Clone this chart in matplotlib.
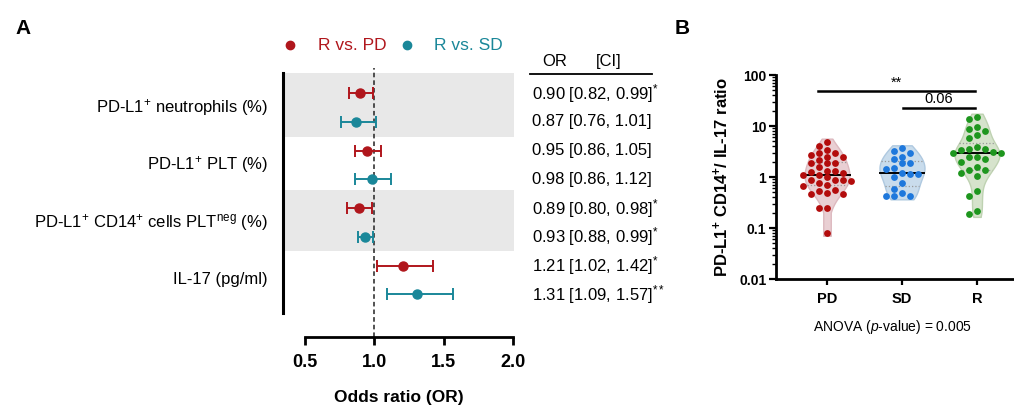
import numpy as np
import matplotlib
matplotlib.use('Agg')
import matplotlib.pyplot as plt
from matplotlib.lines import Line2D
from matplotlib.transforms import blended_transform_factory

plt.rcParams['font.family'] = ['Liberation Sans', 'DejaVu Sans']
plt.rcParams['mathtext.fontset'] = 'custom'
plt.rcParams['mathtext.rm'] = 'Liberation Sans'
plt.rcParams['mathtext.it'] = 'Liberation Sans:italic'
plt.rcParams['mathtext.bf'] = 'Liberation Sans:bold'

# ---------------- data: panel A (forest plot) ----------------
features = [r'PD-L1$^{+}$ neutrophils (%)',
            r'PD-L1$^{+}$ PLT (%)',
            r'PD-L1$^{+}$ CD14$^{+}$ cells PLT$^{\mathrm{neg}}$ (%)',
            'IL-17 (pg/ml)']
or_pd = [0.90, 0.95, 0.89, 1.21]
lo_pd = [0.82, 0.86, 0.80, 1.02]
hi_pd = [0.99, 1.05, 0.98, 1.42]
sig_pd = ['*', '', '*', '*']
or_sd = [0.87, 0.98, 0.93, 1.31]
lo_sd = [0.76, 0.86, 0.88, 1.09]
hi_sd = [1.01, 1.12, 0.99, 1.57]
sig_sd = ['', '', '*', '**']
series_labels = ['R vs. PD', 'R vs. SD']
or_ticks = [0.5, 1.0, 1.5, 2.0]

# ---------------- data: panel B (violin) ----------------
groups = ['PD', 'SD', 'R']
pd_vals = [4.93, 4.05, 3.38, 3.0, 3.0, 2.7, 2.43, 2.5, 2.15, 1.85, 1.85, 1.85,
           1.55, 1.33, 1.33, 1.27, 1.18, 1.09, 1.09, 0.98, 0.87, 0.87, 0.87,
           0.82, 0.75, 0.70, 0.67, 0.56, 0.54, 0.48, 0.46, 0.46, 0.25, 0.25, 0.081]
sd_vals = [3.65, 3.28, 3.0, 2.5, 2.22, 1.85, 1.85, 1.48, 1.41, 1.18, 1.15, 1.15,
           1.01, 0.75, 0.57, 0.49, 0.42, 0.42, 0.42]
r_vals = [15.2, 13.5, 9.7, 8.6, 8.0, 6.7, 5.7, 3.9, 3.5, 3.5, 3.4, 3.1, 2.9, 2.9,
          2.5, 2.5, 2.3, 2.0, 1.6, 1.37, 1.37, 1.2, 1.05, 0.54, 0.42, 0.22, 0.19]
comparisons = [('PD', 'R', '**', 48.5), ('SD', 'R', '0.06', 22.5)]
anova_p = '0.005'

RED = '#B0161C'
TEAL = '#1A8799'
dot_cols = ['#B30C0C', '#1E78DC', '#1E961E']
fill_cols = ['#E9CFD3', '#C9DCEC', '#D6E3CC']
edge_cols = ['#DDB9BF', '#AFC9E0', '#BFD2B2']

fig = plt.figure(figsize=(10.14, 4.05), dpi=100)

# ================= Panel A =================
axA = fig.add_axes([0.2791, 0.2272, 0.2278, 0.5926])
axA.set_xlim(0.342, 2.007)
axA.set_ylim(7.65, -0.7)
axA.axhspan(-0.7, 1.53, color='#E8E8E8', lw=0, zorder=0)
axA.axhspan(3.37, 5.5, color='#E8E8E8', lw=0, zorder=0)

n = len(features)
y_pd = np.arange(n) * 2
y_sd = np.arange(n) * 2 + 1
o = np.array(or_pd); axA.errorbar(o, y_pd, xerr=[o - np.array(lo_pd), np.array(hi_pd) - o],
                                  fmt='o', color=RED, ms=6.5, capsize=4, elinewidth=1.4, capthick=1.4, zorder=3)
o = np.array(or_sd); axA.errorbar(o, y_sd, xerr=[o - np.array(lo_sd), np.array(hi_sd) - o],
                                  fmt='o', color=TEAL, ms=6.5, capsize=4, elinewidth=1.4, capthick=1.4, zorder=3)
axA.axvline(1.0, ymin=-0.1, ymax=1.02, ls=(0, (3, 2)), color='#222222', lw=1.1, clip_on=False, zorder=2)

for s in ['top', 'right']:
    axA.spines[s].set_visible(False)
axA.spines['left'].set_linewidth(2.2)
axA.spines['bottom'].set_linewidth(2)
axA.spines['bottom'].set_position(('outward', 17.3))
axA.spines['bottom'].set_bounds(0.5, 2.0)
axA.set_yticks([])
axA.set_xticks(or_ticks)
axA.set_xticklabels(['%.1f' % t for t in or_ticks], fontsize=13, fontweight='bold')
axA.tick_params(axis='x', length=6, width=2, pad=6)
axA.set_xlabel('Odds ratio (OR)', fontsize=12.5, fontweight='bold', labelpad=14)

tr_lab = blended_transform_factory(axA.transAxes, axA.transData)
for i, f in enumerate(features):
    axA.text(-0.065, 2 * i + 0.5, f, transform=tr_lab, ha='right', va='center', fontsize=12)

tr_tab = blended_transform_factory(fig.transFigure, axA.transData)
x_tab = 532 / 1014
for i in range(n):
    axA.text(x_tab, y_pd[i], '%.2f [%.2f, %.2f]' % (or_pd[i], lo_pd[i], hi_pd[i]) +
             (r'$^{%s}$' % sig_pd[i] if sig_pd[i] else ''), transform=tr_tab,
             ha='left', va='center', fontsize=12, clip_on=False)
    axA.text(x_tab, y_sd[i], '%.2f [%.2f, %.2f]' % (or_sd[i], lo_sd[i], hi_sd[i]) +
             (r'$^{%s}$' % sig_sd[i] if sig_sd[i] else ''), transform=tr_tab,
             ha='left', va='center', fontsize=12, clip_on=False)
axA.text(542 / 1014, -1.1, 'OR', transform=tr_tab, ha='left', va='center', fontsize=12)
axA.text(596 / 1014, -1.1, '[CI]', transform=tr_tab, ha='left', va='center', fontsize=12)
axA.add_line(Line2D([530 / 1014, 652 / 1014], [-0.66, -0.66], transform=tr_tab, color='black',
                    lw=1.3, clip_on=False))

# legend
ly = (405 - 45) / 405
fig.add_artist(Line2D([290 / 1014], [ly], marker='o', color=RED, ms=6, ls='none'))
fig.text(318 / 1014, ly, series_labels[0], color=RED, fontsize=12.5, ha='left', va='center')
fig.add_artist(Line2D([407 / 1014], [ly], marker='o', color=TEAL, ms=6, ls='none'))
fig.text(434 / 1014, ly, series_labels[1], color=TEAL, fontsize=12.5, ha='left', va='center')

fig.text(15 / 1014, (405 - 28) / 405, 'A', fontsize=15, fontweight='bold', ha='left', va='center')
fig.text(675 / 1014, (405 - 28) / 405, 'B', fontsize=15, fontweight='bold', ha='left', va='center')

# ================= Panel B =================
axB = fig.add_axes([0.7653, 0.311, 0.2337, 0.5037])
axB.set_yscale('log')
axB.set_ylim(0.01, 100)
axB.set_xlim(-0.68, 2.48)


def swarm(vals, d=6.6, step=8.0, ppd=51.0, ppu=75.0):
    vals = np.asarray(vals, float)
    order = np.argsort(vals)[::-1]
    placed = []
    xs = np.zeros(len(vals))
    for idx in order:
        y = np.log10(vals[idx]) * ppd
        x = 0.0
        for k in [0, -1, 1, -2, 2, -3, 3, -4, 4]:
            x = k * step
            if all((x - px) ** 2 + (y - py) ** 2 >= d * d for px, py in placed):
                break
        placed.append((x, y))
        xs[idx] = x / ppu
    return xs


all_vals = [pd_vals, sd_vals, r_vals]
for i, vals in enumerate(all_vals):
    v = np.asarray(vals, float)
    lv = np.log10(v)
    grid = np.linspace(lv.min() - 0.06, lv.max() + 0.06, 300)
    bw = 0.2
    dens = np.exp(-0.5 * ((grid[:, None] - lv[None, :]) / bw) ** 2).sum(axis=1)
    w = dens / dens.max() * 0.30
    w = np.maximum(w, 0.05)
    axB.fill_betweenx(10 ** grid, i - w, i + w, facecolor=fill_cols[i], edgecolor=edge_cols[i],
                      lw=1, zorder=1)
    q1, med, q3 = np.percentile(lv, [25, 50, 75])
    for q, st, c, lw in [(q1, ':', '#999999', 0.9), (q3, ':', '#999999', 0.9), (med, '-', 'black', 1.4)]:
        wq = np.interp(q, grid, w)
        axB.plot([i - wq, i + wq], [10 ** q, 10 ** q], ls=st, color=c, lw=lw, zorder=2)
    xs = swarm(v)
    axB.scatter(i + xs, v, s=24, color=dot_cols[i], zorder=3, linewidths=0)

for g1, g2, lab, yv in comparisons:
    x1 = groups.index(g1)
    x2 = groups.index(g2)
    xa = x1 - 0.12 if x1 == 0 else x1 + 0.01
    xb = x2 - 0.03
    axB.plot([xa, xb], [yv, yv], color='black', lw=1.8, clip_on=False)
    axB.text((xa + xb) / 2, yv * 1.08, lab, ha='center', va='bottom', fontsize=10.5)

for s in ['top', 'right']:
    axB.spines[s].set_visible(False)
axB.spines['left'].set_linewidth(2)
axB.spines['bottom'].set_linewidth(2)
axB.set_yticks([0.01, 0.1, 1, 10, 100])
axB.set_yticklabels(['0.01', '0.1', '1', '10', '100'], fontsize=10, fontweight='bold')
axB.tick_params(axis='y', which='major', length=5, width=1.6, pad=2)
axB.tick_params(axis='y', which='minor', length=3, width=1)
axB.set_xticks(range(len(groups)))
axB.set_xticklabels(groups, fontsize=10.5, fontweight='bold')
axB.tick_params(axis='x', length=4, width=1.6, pad=5)
axB.set_ylabel(r'PD-L1$^{\mathbf{+}}$ CD14$^{\mathbf{+}}$/ IL-17 ratio', fontsize=12,
               fontweight='bold', labelpad=6)
fig.text(893 / 1014, (405 - 327) / 405, r'ANOVA ($p$-value) = ' + anova_p, ha='center',
         va='center', fontsize=10)

fig.savefig('out.png', dpi=100)
